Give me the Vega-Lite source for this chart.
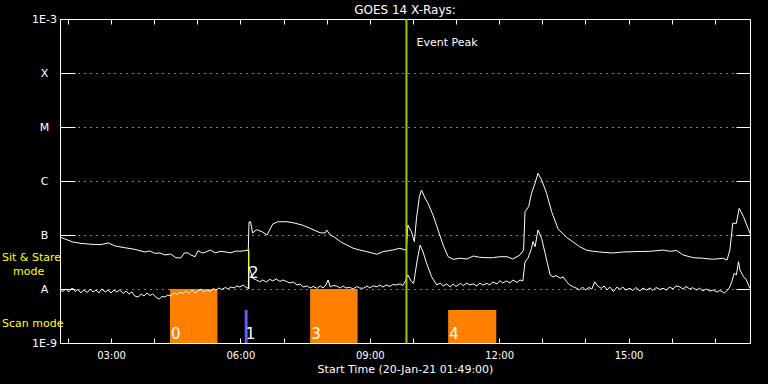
{
  "$schema": "https://vega.github.io/schema/vega-lite/v6.json",
  "width": 690,
  "height": 324,
  "autosize": "none",
  "padding": {"left": 60, "top": 19, "right": 18, "bottom": 41},
  "background": "black",
  "config": {
    "view": {"stroke": "white", "strokeWidth": 1},
    "font": "DejaVu Sans"
  },
  "title": {"text": "GOES 14 X-Rays:", "color": "white", "fontSize": 12, "fontWeight": "normal", "font": "DejaVu Sans", "anchor": "middle", "offset": -4},
  "datasets": {
    "bars": [
      {"id": "0", "type": "scan", "start": "2021-01-20T04:22", "end": "2021-01-20T05:28", "top": 1e-8, "bottom": 1e-9},
      {"id": "1", "type": "scan2", "start": "2021-01-20T06:06", "end": "2021-01-20T06:10", "top": 4.1e-9, "bottom": 1e-9},
      {"id": "2", "type": "stare", "start": "2021-01-20T06:10:30", "end": "2021-01-20T06:12:30", "top": 5.27e-8, "bottom": 1e-8},
      {"id": "3", "type": "scan", "start": "2021-01-20T07:37", "end": "2021-01-20T08:43", "top": 1e-8, "bottom": 1e-9},
      {"id": "4", "type": "scan", "start": "2021-01-20T10:49", "end": "2021-01-20T11:56", "top": 4.1e-9, "bottom": 1e-9}
    ],
    "notes": [
      {"text": "Event Peak", "kind": "event", "t": "2021-01-20T09:51", "v": 3.6e-4},
      {"text": "Sit & Stare", "kind": "stare", "t": "2021-01-20T01:49", "v": 3.75e-8},
      {"text": "mode", "kind": "stare2", "t": "2021-01-20T01:49", "v": 2.08e-8},
      {"text": "Scan mode", "kind": "scan", "t": "2021-01-20T01:49", "v": 2.25e-9}
    ],
    "peak": [{"t": "2021-01-20T09:51"}],
    "goes": [
      {"c": "long", "t": "2021-01-20T01:49", "v": 9.18e-8},
      {"c": "long", "t": "2021-01-20T01:56", "v": 8.43e-8},
      {"c": "long", "t": "2021-01-20T02:07", "v": 7.41e-8},
      {"c": "long", "t": "2021-01-20T02:18", "v": 7.01e-8},
      {"c": "long", "t": "2021-01-20T02:32", "v": 6.73e-8},
      {"c": "long", "t": "2021-01-20T02:46", "v": 6.65e-8},
      {"c": "long", "t": "2021-01-20T02:56", "v": 7.11e-8},
      {"c": "long", "t": "2021-01-20T03:06", "v": 6.25e-8},
      {"c": "long", "t": "2021-01-20T03:19", "v": 5.82e-8},
      {"c": "long", "t": "2021-01-20T03:33", "v": 5.43e-8},
      {"c": "long", "t": "2021-01-20T03:47", "v": 4.84e-8},
      {"c": "long", "t": "2021-01-20T03:54", "v": 5.06e-8},
      {"c": "long", "t": "2021-01-20T04:01", "v": 4.58e-8},
      {"c": "long", "t": "2021-01-20T04:08", "v": 4.64e-8},
      {"c": "long", "t": "2021-01-20T04:15", "v": 4.27e-8},
      {"c": "long", "t": "2021-01-20T04:23", "v": 4.45e-8},
      {"c": "long", "t": "2021-01-20T04:30", "v": 3.80e-8},
      {"c": "long", "t": "2021-01-20T04:37", "v": 3.75e-8},
      {"c": "long", "t": "2021-01-20T04:42", "v": 4.64e-8},
      {"c": "long", "t": "2021-01-20T04:47", "v": 4.68e-8},
      {"c": "long", "t": "2021-01-20T04:51", "v": 4.27e-8},
      {"c": "long", "t": "2021-01-20T04:57", "v": 3.96e-8},
      {"c": "long", "t": "2021-01-20T05:01", "v": 5.12e-8},
      {"c": "long", "t": "2021-01-20T05:07", "v": 4.64e-8},
      {"c": "long", "t": "2021-01-20T05:11", "v": 4.78e-8},
      {"c": "long", "t": "2021-01-20T05:18", "v": 5.27e-8},
      {"c": "long", "t": "2021-01-20T05:25", "v": 4.68e-8},
      {"c": "long", "t": "2021-01-20T05:33", "v": 4.99e-8},
      {"c": "long", "t": "2021-01-20T05:47", "v": 4.68e-8},
      {"c": "long", "t": "2021-01-20T05:54", "v": 5.06e-8},
      {"c": "long", "t": "2021-01-20T05:59", "v": 4.99e-8},
      {"c": "long", "t": "2021-01-20T06:06", "v": 5.12e-8},
      {"c": "long", "t": "2021-01-20T06:11", "v": 5.27e-8},
      {"c": "long", "t": "2021-01-20T06:12", "v": 1.74e-7},
      {"c": "long", "t": "2021-01-20T06:14", "v": 1.76e-7},
      {"c": "long", "t": "2021-01-20T06:17", "v": 1.09e-7},
      {"c": "long", "t": "2021-01-20T06:22", "v": 1.24e-7},
      {"c": "long", "t": "2021-01-20T06:24", "v": 1.24e-7},
      {"c": "long", "t": "2021-01-20T06:30", "v": 1.15e-7},
      {"c": "long", "t": "2021-01-20T06:37", "v": 1.00e-7},
      {"c": "long", "t": "2021-01-20T06:45", "v": 1.60e-7},
      {"c": "long", "t": "2021-01-20T06:52", "v": 1.76e-7},
      {"c": "long", "t": "2021-01-20T07:05", "v": 1.76e-7},
      {"c": "long", "t": "2021-01-20T07:13", "v": 1.69e-7},
      {"c": "long", "t": "2021-01-20T07:26", "v": 1.53e-7},
      {"c": "long", "t": "2021-01-20T07:37", "v": 1.33e-7},
      {"c": "long", "t": "2021-01-20T07:51", "v": 1.10e-7},
      {"c": "long", "t": "2021-01-20T07:58", "v": 1.09e-7},
      {"c": "long", "t": "2021-01-20T08:00", "v": 1.24e-7},
      {"c": "long", "t": "2021-01-20T08:05", "v": 1.00e-7},
      {"c": "long", "t": "2021-01-20T08:10", "v": 9.31e-8},
      {"c": "long", "t": "2021-01-20T08:19", "v": 7.52e-8},
      {"c": "long", "t": "2021-01-20T08:28", "v": 6.53e-8},
      {"c": "long", "t": "2021-01-20T08:37", "v": 5.68e-8},
      {"c": "long", "t": "2021-01-20T08:46", "v": 5.27e-8},
      {"c": "long", "t": "2021-01-20T08:56", "v": 4.91e-8},
      {"c": "long", "t": "2021-01-20T09:10", "v": 4.40e-8},
      {"c": "long", "t": "2021-01-20T09:18", "v": 4.91e-8},
      {"c": "long", "t": "2021-01-20T09:32", "v": 5.27e-8},
      {"c": "long", "t": "2021-01-20T09:42", "v": 5.68e-8},
      {"c": "long", "t": "2021-01-20T09:49", "v": 5.27e-8},
      {"c": "long", "t": "2021-01-20T09:51", "v": 5.68e-8},
      {"c": "long", "t": "2021-01-20T09:53", "v": 1.53e-7},
      {"c": "long", "t": "2021-01-20T09:58", "v": 1.15e-7},
      {"c": "long", "t": "2021-01-20T10:02", "v": 7.52e-8},
      {"c": "long", "t": "2021-01-20T10:05", "v": 2.04e-7},
      {"c": "long", "t": "2021-01-20T10:09", "v": 5.12e-7},
      {"c": "long", "t": "2021-01-20T10:12", "v": 6.81e-7},
      {"c": "long", "t": "2021-01-20T10:17", "v": 4.79e-7},
      {"c": "long", "t": "2021-01-20T10:21", "v": 3.86e-7},
      {"c": "long", "t": "2021-01-20T10:28", "v": 2.34e-7},
      {"c": "long", "t": "2021-01-20T10:35", "v": 1.24e-7},
      {"c": "long", "t": "2021-01-20T10:42", "v": 6.53e-8},
      {"c": "long", "t": "2021-01-20T10:49", "v": 3.96e-8},
      {"c": "long", "t": "2021-01-20T10:56", "v": 3.55e-8},
      {"c": "long", "t": "2021-01-20T11:06", "v": 3.71e-8},
      {"c": "long", "t": "2021-01-20T11:15", "v": 3.59e-8},
      {"c": "long", "t": "2021-01-20T11:24", "v": 4.08e-8},
      {"c": "long", "t": "2021-01-20T11:33", "v": 3.86e-8},
      {"c": "long", "t": "2021-01-20T11:43", "v": 3.80e-8},
      {"c": "long", "t": "2021-01-20T11:51", "v": 3.80e-8},
      {"c": "long", "t": "2021-01-20T12:01", "v": 3.96e-8},
      {"c": "long", "t": "2021-01-20T12:11", "v": 3.96e-8},
      {"c": "long", "t": "2021-01-20T12:19", "v": 3.59e-8},
      {"c": "long", "t": "2021-01-20T12:29", "v": 4.27e-8},
      {"c": "long", "t": "2021-01-20T12:34", "v": 5.27e-8},
      {"c": "long", "t": "2021-01-20T12:36", "v": 2.70e-7},
      {"c": "long", "t": "2021-01-20T12:41", "v": 3.34e-7},
      {"c": "long", "t": "2021-01-20T12:45", "v": 5.92e-7},
      {"c": "long", "t": "2021-01-20T12:50", "v": 9.18e-7},
      {"c": "long", "t": "2021-01-20T12:54", "v": 1.39e-6},
      {"c": "long", "t": "2021-01-20T12:59", "v": 1.05e-6},
      {"c": "long", "t": "2021-01-20T13:06", "v": 5.92e-7},
      {"c": "long", "t": "2021-01-20T13:13", "v": 2.70e-7},
      {"c": "long", "t": "2021-01-20T13:22", "v": 1.29e-7},
      {"c": "long", "t": "2021-01-20T13:34", "v": 9.00e-8},
      {"c": "long", "t": "2021-01-20T13:43", "v": 7.41e-8},
      {"c": "long", "t": "2021-01-20T13:52", "v": 6.07e-8},
      {"c": "long", "t": "2021-01-20T14:02", "v": 5.21e-8},
      {"c": "long", "t": "2021-01-20T14:11", "v": 4.99e-8},
      {"c": "long", "t": "2021-01-20T14:20", "v": 4.84e-8},
      {"c": "long", "t": "2021-01-20T14:38", "v": 4.64e-8},
      {"c": "long", "t": "2021-01-20T14:52", "v": 4.84e-8},
      {"c": "long", "t": "2021-01-20T15:12", "v": 4.94e-8},
      {"c": "long", "t": "2021-01-20T15:30", "v": 4.99e-8},
      {"c": "long", "t": "2021-01-20T15:48", "v": 5.27e-8},
      {"c": "long", "t": "2021-01-20T15:58", "v": 4.99e-8},
      {"c": "long", "t": "2021-01-20T16:07", "v": 5.16e-8},
      {"c": "long", "t": "2021-01-20T16:16", "v": 4.27e-8},
      {"c": "long", "t": "2021-01-20T16:30", "v": 3.80e-8},
      {"c": "long", "t": "2021-01-20T16:44", "v": 3.71e-8},
      {"c": "long", "t": "2021-01-20T16:57", "v": 3.55e-8},
      {"c": "long", "t": "2021-01-20T17:11", "v": 3.71e-8},
      {"c": "long", "t": "2021-01-20T17:17", "v": 3.44e-8},
      {"c": "long", "t": "2021-01-20T17:21", "v": 5.27e-8},
      {"c": "long", "t": "2021-01-20T17:25", "v": 1.65e-7},
      {"c": "long", "t": "2021-01-20T17:30", "v": 1.65e-7},
      {"c": "long", "t": "2021-01-20T17:34", "v": 3.12e-7},
      {"c": "long", "t": "2021-01-20T17:40", "v": 2.18e-7},
      {"c": "long", "t": "2021-01-20T17:49", "v": 1.07e-7},
      {"c": "short", "t": "2021-01-20T01:49", "v": 9.57e-9},
      {"c": "short", "t": "2021-01-20T01:53", "v": 8.99e-9},
      {"c": "short", "t": "2021-01-20T01:57", "v": 1.0e-8},
      {"c": "short", "t": "2021-01-20T02:01", "v": 8.80e-9},
      {"c": "short", "t": "2021-01-20T02:06", "v": 1.044e-8},
      {"c": "short", "t": "2021-01-20T02:10", "v": 8.99e-9},
      {"c": "short", "t": "2021-01-20T02:14", "v": 9.79e-9},
      {"c": "short", "t": "2021-01-20T02:18", "v": 8.43e-9},
      {"c": "short", "t": "2021-01-20T02:22", "v": 9.57e-9},
      {"c": "short", "t": "2021-01-20T02:27", "v": 8.61e-9},
      {"c": "short", "t": "2021-01-20T02:31", "v": 1.0e-8},
      {"c": "short", "t": "2021-01-20T02:35", "v": 8.80e-9},
      {"c": "short", "t": "2021-01-20T02:39", "v": 9.57e-9},
      {"c": "short", "t": "2021-01-20T02:43", "v": 8.43e-9},
      {"c": "short", "t": "2021-01-20T02:47", "v": 1.0e-8},
      {"c": "short", "t": "2021-01-20T02:52", "v": 8.80e-9},
      {"c": "short", "t": "2021-01-20T02:56", "v": 9.57e-9},
      {"c": "short", "t": "2021-01-20T03:00", "v": 8.43e-9},
      {"c": "short", "t": "2021-01-20T03:04", "v": 9.57e-9},
      {"c": "short", "t": "2021-01-20T03:08", "v": 8.80e-9},
      {"c": "short", "t": "2021-01-20T03:12", "v": 9.57e-9},
      {"c": "short", "t": "2021-01-20T03:17", "v": 8.25e-9},
      {"c": "short", "t": "2021-01-20T03:21", "v": 9.18e-9},
      {"c": "short", "t": "2021-01-20T03:25", "v": 8.08e-9},
      {"c": "short", "t": "2021-01-20T03:29", "v": 8.80e-9},
      {"c": "short", "t": "2021-01-20T03:33", "v": 7.41e-9},
      {"c": "short", "t": "2021-01-20T03:38", "v": 7.11e-9},
      {"c": "short", "t": "2021-01-20T03:42", "v": 8.08e-9},
      {"c": "short", "t": "2021-01-20T03:46", "v": 7.41e-9},
      {"c": "short", "t": "2021-01-20T03:50", "v": 8.43e-9},
      {"c": "short", "t": "2021-01-20T03:54", "v": 7.58e-9},
      {"c": "short", "t": "2021-01-20T03:58", "v": 8.08e-9},
      {"c": "short", "t": "2021-01-20T04:03", "v": 6.96e-9},
      {"c": "short", "t": "2021-01-20T04:07", "v": 6.53e-9},
      {"c": "short", "t": "2021-01-20T04:11", "v": 7.26e-9},
      {"c": "short", "t": "2021-01-20T04:15", "v": 7.11e-9},
      {"c": "short", "t": "2021-01-20T04:19", "v": 7.74e-9},
      {"c": "short", "t": "2021-01-20T04:23", "v": 7.41e-9},
      {"c": "short", "t": "2021-01-20T04:28", "v": 8.43e-9},
      {"c": "short", "t": "2021-01-20T04:32", "v": 7.91e-9},
      {"c": "short", "t": "2021-01-20T04:36", "v": 8.80e-9},
      {"c": "short", "t": "2021-01-20T04:40", "v": 8.08e-9},
      {"c": "short", "t": "2021-01-20T04:44", "v": 9.18e-9},
      {"c": "short", "t": "2021-01-20T04:48", "v": 8.25e-9},
      {"c": "short", "t": "2021-01-20T04:53", "v": 9.57e-9},
      {"c": "short", "t": "2021-01-20T04:57", "v": 8.43e-9},
      {"c": "short", "t": "2021-01-20T05:01", "v": 9.18e-9},
      {"c": "short", "t": "2021-01-20T05:05", "v": 1.0e-8},
      {"c": "short", "t": "2021-01-20T05:09", "v": 8.80e-9},
      {"c": "short", "t": "2021-01-20T05:14", "v": 9.57e-9},
      {"c": "short", "t": "2021-01-20T05:18", "v": 8.99e-9},
      {"c": "short", "t": "2021-01-20T05:22", "v": 1.02e-8},
      {"c": "short", "t": "2021-01-20T05:26", "v": 9.57e-9},
      {"c": "short", "t": "2021-01-20T05:30", "v": 1.044e-8},
      {"c": "short", "t": "2021-01-20T05:34", "v": 9.79e-9},
      {"c": "short", "t": "2021-01-20T05:39", "v": 1.066e-8},
      {"c": "short", "t": "2021-01-20T05:43", "v": 1.0e-8},
      {"c": "short", "t": "2021-01-20T05:47", "v": 1.089e-8},
      {"c": "short", "t": "2021-01-20T05:51", "v": 1.044e-8},
      {"c": "short", "t": "2021-01-20T05:55", "v": 1.137e-8},
      {"c": "short", "t": "2021-01-20T05:59", "v": 1.089e-8},
      {"c": "short", "t": "2021-01-20T06:04", "v": 1.187e-8},
      {"c": "short", "t": "2021-01-20T06:08", "v": 1.066e-8},
      {"c": "short", "t": "2021-01-20T06:11", "v": 1.03e-8},
      {"c": "short", "t": "2021-01-20T06:12", "v": 2.59e-8},
      {"c": "short", "t": "2021-01-20T06:17", "v": 1.58e-8},
      {"c": "short", "t": "2021-01-20T06:22", "v": 1.47e-8},
      {"c": "short", "t": "2021-01-20T06:27", "v": 1.36e-8},
      {"c": "short", "t": "2021-01-20T06:31", "v": 1.47e-8},
      {"c": "short", "t": "2021-01-20T06:36", "v": 1.35e-8},
      {"c": "short", "t": "2021-01-20T06:41", "v": 1.51e-8},
      {"c": "short", "t": "2021-01-20T06:45", "v": 1.41e-8},
      {"c": "short", "t": "2021-01-20T06:50", "v": 1.53e-8},
      {"c": "short", "t": "2021-01-20T06:55", "v": 1.38e-8},
      {"c": "short", "t": "2021-01-20T06:59", "v": 1.47e-8},
      {"c": "short", "t": "2021-01-20T07:04", "v": 1.38e-8},
      {"c": "short", "t": "2021-01-20T07:09", "v": 1.29e-8},
      {"c": "short", "t": "2021-01-20T07:13", "v": 1.35e-8},
      {"c": "short", "t": "2021-01-20T07:19", "v": 1.187e-8},
      {"c": "short", "t": "2021-01-20T07:23", "v": 1.24e-8},
      {"c": "short", "t": "2021-01-20T07:27", "v": 1.089e-8},
      {"c": "short", "t": "2021-01-20T07:33", "v": 1.137e-8},
      {"c": "short", "t": "2021-01-20T07:37", "v": 1.044e-8},
      {"c": "short", "t": "2021-01-20T07:41", "v": 1.113e-8},
      {"c": "short", "t": "2021-01-20T07:47", "v": 1.03e-8},
      {"c": "short", "t": "2021-01-20T07:51", "v": 1.137e-8},
      {"c": "short", "t": "2021-01-20T07:55", "v": 1.044e-8},
      {"c": "short", "t": "2021-01-20T07:59", "v": 1.187e-8},
      {"c": "short", "t": "2021-01-20T08:02", "v": 1.47e-8},
      {"c": "short", "t": "2021-01-20T08:05", "v": 1.089e-8},
      {"c": "short", "t": "2021-01-20T08:09", "v": 1.16e-8},
      {"c": "short", "t": "2021-01-20T08:14", "v": 1.137e-8},
      {"c": "short", "t": "2021-01-20T08:19", "v": 1.044e-8},
      {"c": "short", "t": "2021-01-20T08:23", "v": 1.137e-8},
      {"c": "short", "t": "2021-01-20T08:27", "v": 1.044e-8},
      {"c": "short", "t": "2021-01-20T08:32", "v": 1.074e-8},
      {"c": "short", "t": "2021-01-20T08:37", "v": 1.0e-8},
      {"c": "short", "t": "2021-01-20T08:42", "v": 1.113e-8},
      {"c": "short", "t": "2021-01-20T08:46", "v": 1.044e-8},
      {"c": "short", "t": "2021-01-20T08:51", "v": 1.03e-8},
      {"c": "short", "t": "2021-01-20T08:56", "v": 1.137e-8},
      {"c": "short", "t": "2021-01-20T09:00", "v": 1.044e-8},
      {"c": "short", "t": "2021-01-20T09:04", "v": 1.137e-8},
      {"c": "short", "t": "2021-01-20T09:10", "v": 1.10e-8},
      {"c": "short", "t": "2021-01-20T09:14", "v": 1.187e-8},
      {"c": "short", "t": "2021-01-20T09:18", "v": 1.089e-8},
      {"c": "short", "t": "2021-01-20T09:23", "v": 1.187e-8},
      {"c": "short", "t": "2021-01-20T09:28", "v": 1.113e-8},
      {"c": "short", "t": "2021-01-20T09:32", "v": 1.21e-8},
      {"c": "short", "t": "2021-01-20T09:37", "v": 1.187e-8},
      {"c": "short", "t": "2021-01-20T09:42", "v": 1.24e-8},
      {"c": "short", "t": "2021-01-20T09:46", "v": 1.16e-8},
      {"c": "short", "t": "2021-01-20T09:49", "v": 1.36e-8},
      {"c": "short", "t": "2021-01-20T09:51", "v": 1.60e-8},
      {"c": "short", "t": "2021-01-20T09:53", "v": 1.82e-8},
      {"c": "short", "t": "2021-01-20T09:58", "v": 1.36e-8},
      {"c": "short", "t": "2021-01-20T10:01", "v": 1.27e-8},
      {"c": "short", "t": "2021-01-20T10:06", "v": 3.44e-8},
      {"c": "short", "t": "2021-01-20T10:10", "v": 6.53e-8},
      {"c": "short", "t": "2021-01-20T10:14", "v": 4.91e-8},
      {"c": "short", "t": "2021-01-20T10:19", "v": 2.99e-8},
      {"c": "short", "t": "2021-01-20T10:26", "v": 1.69e-8},
      {"c": "short", "t": "2021-01-20T10:33", "v": 1.187e-8},
      {"c": "short", "t": "2021-01-20T10:38", "v": 1.29e-8},
      {"c": "short", "t": "2021-01-20T10:42", "v": 1.137e-8},
      {"c": "short", "t": "2021-01-20T10:47", "v": 1.24e-8},
      {"c": "short", "t": "2021-01-20T10:52", "v": 1.089e-8},
      {"c": "short", "t": "2021-01-20T10:56", "v": 1.24e-8},
      {"c": "short", "t": "2021-01-20T11:00", "v": 1.113e-8},
      {"c": "short", "t": "2021-01-20T11:06", "v": 1.27e-8},
      {"c": "short", "t": "2021-01-20T11:10", "v": 1.16e-8},
      {"c": "short", "t": "2021-01-20T11:15", "v": 1.29e-8},
      {"c": "short", "t": "2021-01-20T11:19", "v": 1.187e-8},
      {"c": "short", "t": "2021-01-20T11:24", "v": 1.24e-8},
      {"c": "short", "t": "2021-01-20T11:29", "v": 1.137e-8},
      {"c": "short", "t": "2021-01-20T11:33", "v": 1.29e-8},
      {"c": "short", "t": "2021-01-20T11:37", "v": 1.187e-8},
      {"c": "short", "t": "2021-01-20T11:43", "v": 1.27e-8},
      {"c": "short", "t": "2021-01-20T11:47", "v": 1.187e-8},
      {"c": "short", "t": "2021-01-20T11:51", "v": 1.35e-8},
      {"c": "short", "t": "2021-01-20T11:57", "v": 1.24e-8},
      {"c": "short", "t": "2021-01-20T12:01", "v": 1.43e-8},
      {"c": "short", "t": "2021-01-20T12:05", "v": 1.29e-8},
      {"c": "short", "t": "2021-01-20T12:10", "v": 1.41e-8},
      {"c": "short", "t": "2021-01-20T12:15", "v": 1.29e-8},
      {"c": "short", "t": "2021-01-20T12:19", "v": 1.47e-8},
      {"c": "short", "t": "2021-01-20T12:25", "v": 1.32e-8},
      {"c": "short", "t": "2021-01-20T12:29", "v": 1.47e-8},
      {"c": "short", "t": "2021-01-20T12:33", "v": 1.41e-8},
      {"c": "short", "t": "2021-01-20T12:36", "v": 3.16e-8},
      {"c": "short", "t": "2021-01-20T12:40", "v": 3.71e-8},
      {"c": "short", "t": "2021-01-20T12:45", "v": 5.68e-8},
      {"c": "short", "t": "2021-01-20T12:47", "v": 7.52e-8},
      {"c": "short", "t": "2021-01-20T12:50", "v": 6.07e-8},
      {"c": "short", "t": "2021-01-20T12:54", "v": 1.24e-7},
      {"c": "short", "t": "2021-01-20T12:59", "v": 8.69e-8},
      {"c": "short", "t": "2021-01-20T13:04", "v": 4.58e-8},
      {"c": "short", "t": "2021-01-20T13:06", "v": 3.44e-8},
      {"c": "short", "t": "2021-01-20T13:11", "v": 1.82e-8},
      {"c": "short", "t": "2021-01-20T13:15", "v": 1.67e-8},
      {"c": "short", "t": "2021-01-20T13:19", "v": 1.78e-8},
      {"c": "short", "t": "2021-01-20T13:25", "v": 1.58e-8},
      {"c": "short", "t": "2021-01-20T13:29", "v": 1.67e-8},
      {"c": "short", "t": "2021-01-20T13:34", "v": 1.36e-8},
      {"c": "short", "t": "2021-01-20T13:38", "v": 1.187e-8},
      {"c": "short", "t": "2021-01-20T13:43", "v": 1.10e-8},
      {"c": "short", "t": "2021-01-20T13:48", "v": 1.03e-8},
      {"c": "short", "t": "2021-01-20T13:52", "v": 9.57e-9},
      {"c": "short", "t": "2021-01-20T13:56", "v": 1.089e-8},
      {"c": "short", "t": "2021-01-20T14:00", "v": 9.57e-9},
      {"c": "short", "t": "2021-01-20T14:05", "v": 1.066e-8},
      {"c": "short", "t": "2021-01-20T14:09", "v": 1.0e-8},
      {"c": "short", "t": "2021-01-20T14:13", "v": 1.36e-8},
      {"c": "short", "t": "2021-01-20T14:17", "v": 1.137e-8},
      {"c": "short", "t": "2021-01-20T14:22", "v": 1.03e-8},
      {"c": "short", "t": "2021-01-20T14:26", "v": 1.137e-8},
      {"c": "short", "t": "2021-01-20T14:30", "v": 9.57e-9},
      {"c": "short", "t": "2021-01-20T14:34", "v": 1.089e-8},
      {"c": "short", "t": "2021-01-20T14:39", "v": 8.91e-9},
      {"c": "short", "t": "2021-01-20T14:44", "v": 1.089e-8},
      {"c": "short", "t": "2021-01-20T14:48", "v": 9.79e-9},
      {"c": "short", "t": "2021-01-20T14:52", "v": 1.089e-8},
      {"c": "short", "t": "2021-01-20T14:56", "v": 9.57e-9},
      {"c": "short", "t": "2021-01-20T15:02", "v": 1.03e-8},
      {"c": "short", "t": "2021-01-20T15:06", "v": 9.37e-9},
      {"c": "short", "t": "2021-01-20T15:10", "v": 1.066e-8},
      {"c": "short", "t": "2021-01-20T15:16", "v": 9.18e-9},
      {"c": "short", "t": "2021-01-20T15:20", "v": 1.044e-8},
      {"c": "short", "t": "2021-01-20T15:25", "v": 9.57e-9},
      {"c": "short", "t": "2021-01-20T15:30", "v": 1.044e-8},
      {"c": "short", "t": "2021-01-20T15:34", "v": 9.37e-9},
      {"c": "short", "t": "2021-01-20T15:38", "v": 1.066e-8},
      {"c": "short", "t": "2021-01-20T15:44", "v": 9.79e-9},
      {"c": "short", "t": "2021-01-20T15:48", "v": 1.03e-8},
      {"c": "short", "t": "2021-01-20T15:53", "v": 9.57e-9},
      {"c": "short", "t": "2021-01-20T15:57", "v": 1.089e-8},
      {"c": "short", "t": "2021-01-20T16:02", "v": 1.0e-8},
      {"c": "short", "t": "2021-01-20T16:06", "v": 1.137e-8},
      {"c": "short", "t": "2021-01-20T16:11", "v": 1.10e-8},
      {"c": "short", "t": "2021-01-20T16:16", "v": 1.0e-8},
      {"c": "short", "t": "2021-01-20T16:20", "v": 1.113e-8},
      {"c": "short", "t": "2021-01-20T16:25", "v": 1.0e-8},
      {"c": "short", "t": "2021-01-20T16:29", "v": 1.057e-8},
      {"c": "short", "t": "2021-01-20T16:35", "v": 9.57e-9},
      {"c": "short", "t": "2021-01-20T16:39", "v": 1.044e-8},
      {"c": "short", "t": "2021-01-20T16:43", "v": 9.18e-9},
      {"c": "short", "t": "2021-01-20T16:48", "v": 1.0e-8},
      {"c": "short", "t": "2021-01-20T16:53", "v": 9.18e-9},
      {"c": "short", "t": "2021-01-20T16:58", "v": 9.57e-9},
      {"c": "short", "t": "2021-01-20T17:03", "v": 8.80e-9},
      {"c": "short", "t": "2021-01-20T17:07", "v": 9.37e-9},
      {"c": "short", "t": "2021-01-20T17:11", "v": 8.80e-9},
      {"c": "short", "t": "2021-01-20T17:13", "v": 8.32e-9},
      {"c": "short", "t": "2021-01-20T17:18", "v": 9.57e-9},
      {"c": "short", "t": "2021-01-20T17:21", "v": 1.10e-8},
      {"c": "short", "t": "2021-01-20T17:24", "v": 1.41e-8},
      {"c": "short", "t": "2021-01-20T17:27", "v": 1.95e-8},
      {"c": "short", "t": "2021-01-20T17:30", "v": 1.82e-8},
      {"c": "short", "t": "2021-01-20T17:33", "v": 3.21e-8},
      {"c": "short", "t": "2021-01-20T17:35", "v": 2.25e-8},
      {"c": "short", "t": "2021-01-20T17:40", "v": 1.69e-8},
      {"c": "short", "t": "2021-01-20T17:44", "v": 1.47e-8},
      {"c": "short", "t": "2021-01-20T17:49", "v": 1.03e-8}
    ]
  },
  "layer": [
    {
      "data": {"name": "bars"},
      "mark": {"type": "rect"},
      "encoding": {
        "x": {"field": "start", "type": "temporal",
              "scale": {"domain": [{"year": 2021, "month": 1, "date": 20, "hours": 1, "minutes": 49}, {"year": 2021, "month": 1, "date": 20, "hours": 17, "minutes": 49}]},
              "axis": {"orient": "bottom", "title": "Start Time (20-Jan-21 01:49:00)", "titleColor": "white", "titleFontSize": 11, "titleFontWeight": "normal", "titlePadding": 3,
                       "values": [
                         {"year": 2021, "month": 1, "date": 20, "hours": 2},
                         {"year": 2021, "month": 1, "date": 20, "hours": 3},
                         {"year": 2021, "month": 1, "date": 20, "hours": 4},
                         {"year": 2021, "month": 1, "date": 20, "hours": 5},
                         {"year": 2021, "month": 1, "date": 20, "hours": 6},
                         {"year": 2021, "month": 1, "date": 20, "hours": 7},
                         {"year": 2021, "month": 1, "date": 20, "hours": 8},
                         {"year": 2021, "month": 1, "date": 20, "hours": 9},
                         {"year": 2021, "month": 1, "date": 20, "hours": 10},
                         {"year": 2021, "month": 1, "date": 20, "hours": 11},
                         {"year": 2021, "month": 1, "date": 20, "hours": 12},
                         {"year": 2021, "month": 1, "date": 20, "hours": 13},
                         {"year": 2021, "month": 1, "date": 20, "hours": 14},
                         {"year": 2021, "month": 1, "date": 20, "hours": 15},
                         {"year": 2021, "month": 1, "date": 20, "hours": 16},
                         {"year": 2021, "month": 1, "date": 20, "hours": 17}
                       ],
                       "format": "%H:%M",
                       "labelExpr": "hours(datum.value) % 3 == 0 ? datum.label : ''",
                       "tickSize": -5, "tickColor": "white", "domain": false, "grid": false,
                       "labelColor": "white", "labelFontSize": 10, "labelPadding": 12, "labelFlush": false, "labelOverlap": false}},
        "x2": {"field": "end"},
        "y": {"field": "top", "type": "quantitative",
              "scale": {"type": "log", "domain": [1e-9, 1e-3], "nice": false},
              "axis": {"orient": "left", "values": [1e-9, 1e-8, 1e-7, 1e-6, 1e-5, 1e-4, 1e-3],
                       "labelExpr": "datum.value > 5e-4 ? '1E-3' : datum.value > 5e-5 ? 'X' : datum.value > 5e-6 ? 'M' : datum.value > 5e-7 ? 'C' : datum.value > 5e-8 ? 'B' : datum.value > 5e-9 ? 'A' : '1E-9'",
                       "tickSize": -15, "tickColor": "white", "labelPadding": 31, "labelAlign": "center", "labelBaseline": "middle",
                       "labelColor": "white", "labelFontSize": 11, "labelOverlap": false, "labelFlush": false,
                       "grid": true, "gridColor": "white", "gridDash": [1, 5], "gridOpacity": 1, "gridWidth": 1,
                       "domain": false, "title": null}},
        "y2": {"field": "bottom"},
        "color": {"field": "type", "type": "nominal", "legend": null,
                  "scale": {"domain": ["scan", "scan2", "stare"], "range": ["#ff8000", "#6060ff", "#ffff00"]}}
      }
    },
    {
      "data": {"name": "goes"},
      "mark": {"type": "line", "color": "white", "strokeWidth": 1},
      "encoding": {
        "x": {"field": "t", "type": "temporal", "axis": null},
        "y": {"field": "v", "type": "quantitative",
              "axis": {"orient": "right", "values": [1e-8, 1e-7, 1e-6, 1e-5, 1e-4], "labels": false, "tickSize": -14, "tickColor": "white", "domain": false, "grid": false, "title": null}},
        "detail": {"field": "c", "type": "nominal"}
      }
    },
    {
      "data": {"name": "peak"},
      "mark": {"type": "rule", "color": "#99cc00", "strokeWidth": 2},
      "encoding": {
        "x": {"field": "t", "type": "temporal",
              "axis": {"orient": "top", "labels": false, "title": null, "domain": false, "grid": false, "tickSize": -5, "tickColor": "white",
                       "values": [
                         {"year": 2021, "month": 1, "date": 20, "hours": 2},
                         {"year": 2021, "month": 1, "date": 20, "hours": 3},
                         {"year": 2021, "month": 1, "date": 20, "hours": 4},
                         {"year": 2021, "month": 1, "date": 20, "hours": 5},
                         {"year": 2021, "month": 1, "date": 20, "hours": 6},
                         {"year": 2021, "month": 1, "date": 20, "hours": 7},
                         {"year": 2021, "month": 1, "date": 20, "hours": 8},
                         {"year": 2021, "month": 1, "date": 20, "hours": 9},
                         {"year": 2021, "month": 1, "date": 20, "hours": 10},
                         {"year": 2021, "month": 1, "date": 20, "hours": 11},
                         {"year": 2021, "month": 1, "date": 20, "hours": 12},
                         {"year": 2021, "month": 1, "date": 20, "hours": 13},
                         {"year": 2021, "month": 1, "date": 20, "hours": 14},
                         {"year": 2021, "month": 1, "date": 20, "hours": 15},
                         {"year": 2021, "month": 1, "date": 20, "hours": 16},
                         {"year": 2021, "month": 1, "date": 20, "hours": 17}
                       ]}}
      }
    },
    {
      "data": {"name": "bars"},
      "transform": [{"filter": "datum.type != 'stare'"}],
      "mark": {"type": "text", "align": "left", "baseline": "alphabetic", "dx": 1, "dy": -4, "color": "white", "fontSize": 15, "font": "DejaVu Sans"},
      "encoding": {
        "x": {"field": "start", "type": "temporal", "axis": null},
        "y": {"field": "bottom", "type": "quantitative", "axis": null},
        "text": {"field": "id", "type": "nominal"}
      }
    },
    {
      "data": {"name": "bars"},
      "transform": [{"filter": "datum.type == 'stare'"}],
      "mark": {"type": "text", "align": "left", "baseline": "alphabetic", "dx": 1, "dy": -11, "color": "white", "fontSize": 15, "font": "DejaVu Sans"},
      "encoding": {
        "x": {"field": "start", "type": "temporal", "axis": null},
        "y": {"field": "bottom", "type": "quantitative", "axis": null},
        "text": {"field": "id", "type": "nominal"}
      }
    },
    {
      "data": {"name": "notes"},
      "transform": [{"filter": "datum.kind == 'event'"}],
      "mark": {"type": "text", "align": "left", "baseline": "middle", "dx": 10, "color": "white", "fontSize": 11, "font": "DejaVu Sans"},
      "encoding": {
        "x": {"field": "t", "type": "temporal", "axis": null},
        "y": {"field": "v", "type": "quantitative", "axis": null},
        "text": {"field": "text", "type": "nominal"}
      }
    },
    {
      "data": {"name": "notes"},
      "transform": [{"filter": "datum.kind == 'stare'"}],
      "mark": {"type": "text", "align": "left", "baseline": "middle", "dx": -58, "color": "#ffff00", "fontSize": 11, "font": "DejaVu Sans"},
      "encoding": {
        "x": {"field": "t", "type": "temporal", "axis": null},
        "y": {"field": "v", "type": "quantitative", "axis": null},
        "text": {"field": "text", "type": "nominal"}
      }
    },
    {
      "data": {"name": "notes"},
      "transform": [{"filter": "datum.kind == 'stare2'"}],
      "mark": {"type": "text", "align": "left", "baseline": "middle", "dx": -47, "color": "#ffff00", "fontSize": 11, "font": "DejaVu Sans"},
      "encoding": {
        "x": {"field": "t", "type": "temporal", "axis": null},
        "y": {"field": "v", "type": "quantitative", "axis": null},
        "text": {"field": "text", "type": "nominal"}
      }
    },
    {
      "data": {"name": "notes"},
      "transform": [{"filter": "datum.kind == 'scan'"}],
      "mark": {"type": "text", "align": "left", "baseline": "middle", "dx": -58, "color": "#ffff00", "fontSize": 11, "font": "DejaVu Sans"},
      "encoding": {
        "x": {"field": "t", "type": "temporal", "axis": null},
        "y": {"field": "v", "type": "quantitative", "axis": null},
        "text": {"field": "text", "type": "nominal"}
      }
    }
  ],
  "resolve": {"axis": {"x": "independent", "y": "independent"}}
}
